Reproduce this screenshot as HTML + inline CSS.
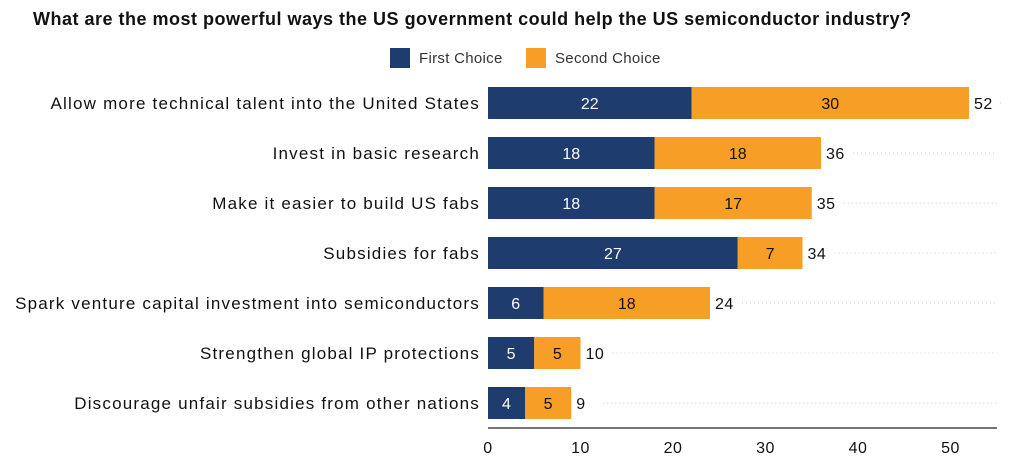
<!DOCTYPE html>
<html><head><meta charset="utf-8"><style>
body{margin:0;background:#fff;font-family:"Liberation Sans",sans-serif;}
</style></head><body>
<svg width="1022" height="458" xmlns="http://www.w3.org/2000/svg" font-family="Liberation Sans, sans-serif">
<text x="33" y="25" font-size="18" font-weight="bold" letter-spacing="0.5" fill="#111">What are the most powerful ways the US government could help the US semiconductor industry?</text>
<g>
<rect x="390" y="48" width="20" height="20" fill="#1e3c6d"/>
<text x="419" y="63" font-size="15" letter-spacing="0.3" fill="#333">First Choice</text>
<rect x="526" y="48" width="20" height="20" fill="#f79e26"/>
<text x="555" y="63" font-size="15" letter-spacing="0.3" fill="#333">Second Choice</text>
</g>
<g id="plot"></g>
</svg>
<script>
const categories=["Allow more technical talent into the United States","Invest in basic research","Make it easier to build US fabs","Subsidies for fabs","Spark venture capital investment into semiconductors","Strengthen global IP protections","Discourage unfair subsidies from other nations"];
const firstChoice=[22,18,18,27,6,5,4];
const secondChoice=[30,18,17,7,18,5,5];
const ticks=[0,10,20,30,40,50];
const NS="http://www.w3.org/2000/svg";
const g=document.getElementById('plot');
const x=v=>488+v*9.25;
const yc=i=>103+i*50;
function mk(t,a){const e=document.createElementNS(NS,t);for(const k in a)e.setAttribute(k,a[k]);g.appendChild(e);return e;}
categories.forEach((c,i)=>{
 const f=firstChoice[i],s=secondChoice[i],tot=f+s,y=yc(i);
 let gl=mk('line',{x1:x(tot)+32,x2:997,y1:y,y2:y,stroke:'#ccc','stroke-dasharray':'1,3'});
 
 
 let lb=mk('text',{x:480,y:y+6,'font-size':17,'letter-spacing':1.2,'text-anchor':'end',fill:'#111'});lb.textContent=c;
 
 
 let b1=mk('rect',{x:x(0),y:y-16,width:x(f)-x(0),height:32,fill:'#1e3c6d'});
 
 
 let b2=mk('rect',{x:x(f),y:y-16,width:x(tot)-x(f),height:32,fill:'#f79e26'});
 
 
 let t1=mk('text',{x:(x(0)+x(f))/2,y:y+6,'font-size':16,'text-anchor':'middle',fill:'#fff'});t1.textContent=f;
 
 
 let t2=mk('text',{x:(x(f)+x(tot))/2,y:y+6,'font-size':16,'text-anchor':'middle',fill:'#111'});t2.textContent=s;
 
 
 let t3=mk('text',{x:x(tot)+5,y:y+6,'font-size':16,'letter-spacing':0.5,fill:'#111'});t3.textContent=tot;
 
 
});
let ax=mk('line',{x1:488,x2:997,y1:428,y2:428,stroke:'#222','stroke-width':1.2});


ticks.forEach(t=>{
 let e=mk('text',{x:x(t),y:453,'font-size':16,'letter-spacing':0.5,'text-anchor':'middle',fill:'#111'});e.textContent=t;
 
 
});
</script>
</body></html>
